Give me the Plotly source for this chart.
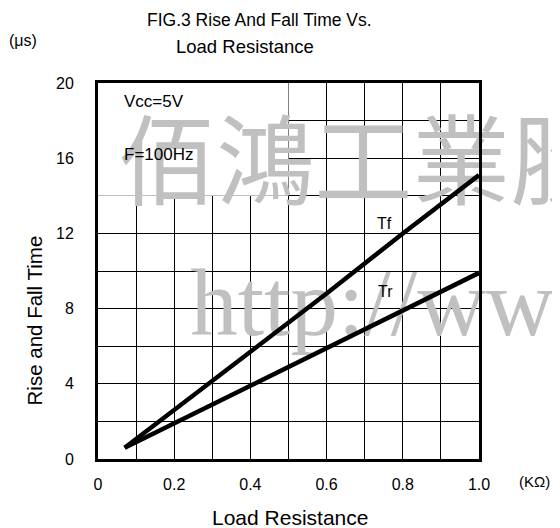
import plotly.graph_objects as go

# Data
load_res_kohm = [0.07, 0.2, 0.4, 0.6, 0.8, 1.0]
tf_us = [0.6, 2.6, 5.7, 8.8, 12.0, 15.1]
tr_us = [0.6, 1.9, 3.9, 5.9, 7.9, 9.9]

x_tickvals = [0, 0.1, 0.2, 0.3, 0.4, 0.5, 0.6, 0.7, 0.8, 0.9, 1.0]
x_ticktext = ["0", "", "0.2", "", "0.4", "", "0.6", "", "0.8", "", "1.0"]
y_tickvals = [0, 2, 4, 6, 8, 10, 12, 14, 16, 18, 20]
y_ticktext = ["0", "", "4", "", "8", "", "12", "", "16", "", "20"]

# blank (grid-free) box behind the test-condition text, in axis units
note_box_x = [0, 0.5, 0.5, 0, 0]
note_box_y = [14, 14, 20, 20, 14]

watermark_cjk = "佰鴻工業股"
watermark_url = "http://www"

FONT = "Liberation Sans, Arial, sans-serif"

# page body has an 8px margin -> figure is 552x520 drawn at (8,8)
OFF = 8
W, H = 552, 520
L, T = 89.7, 74.7
PW, PH = 381.3, 376.3
R = W - L - PW
B = H - T - PH


def sx(xs):
    """screen x pixel -> paper fraction"""
    return (xs - OFF - L) / PW


def sy(ys):
    """screen y pixel -> paper fraction"""
    return 1 - ((ys - OFF) - T) / PH


fig = go.Figure()
# white box hiding the grid (above grid, below watermark and curves)
fig.add_trace(go.Scatter(x=note_box_x, y=note_box_y, mode="lines", fill="toself",
                         fillcolor="white", line=dict(width=0, color="white"),
                         hoverinfo="skip", showlegend=False))
# watermarks as text traces, not clipped to the plot area
fig.add_trace(go.Scatter(x=[0.053], y=[15.25], mode="text", text=[watermark_cjk],
                         textposition="middle right", cliponaxis=False,
                         textfont=dict(family="Noto Sans CJK TC", size=98, color="#c0c0c0"),
                         hoverinfo="skip", showlegend=False))
fig.add_trace(go.Scatter(x=[0.242], y=[7.86], mode="text", text=[watermark_url],
                         textposition="middle right", cliponaxis=False,
                         textfont=dict(family="Liberation Serif", size=95, color="#c0c0c0"),
                         hoverinfo="skip", showlegend=False))
# curves
fig.add_trace(go.Scatter(x=load_res_kohm, y=tf_us, mode="lines", name="Tf",
                         line=dict(color="black", width=4.5)))
fig.add_trace(go.Scatter(x=load_res_kohm, y=tr_us, mode="lines", name="Tr",
                         line=dict(color="black", width=4.5)))

axis_common = dict(showline=True, mirror=True, linecolor="black", linewidth=3,
                   showgrid=True, gridcolor="black", gridwidth=1, zeroline=False,
                   ticks="", tickfont=dict(family=FONT, size=16, color="black"))
fig.update_xaxes(range=[0, 1], tickvals=x_tickvals, ticktext=x_ticktext,
                 ticklabelstandoff=9, **axis_common)
fig.update_yaxes(range=[0, 20], tickvals=y_tickvals, ticktext=y_ticktext,
                 ticklabelstandoff=18, **axis_common)


def ann(text, x, y, size=16, xref="paper", yref="paper", xanchor="center",
        yanchor="middle", angle=0):
    return dict(text=text, x=x, y=y, xref=xref, yref=yref, xanchor=xanchor,
                yanchor=yanchor, showarrow=False, textangle=angle,
                font=dict(family=FONT, size=size, color="black"))


annotations = [
    ann("FIG.3 Rise And Fall Time Vs.", sx(259), sy(20), size=17.5),
    ann("Load Resistance", sx(245), sy(46), size=18.5),
    ann("(μs)", sx(23), sy(40), size=16),
    ann("(KΩ)", sx(535), sy(482), size=15),
    ann("Rise and Fall Time", sx(34), sy(320), size=20.5, angle=-90),
    ann("Load Resistance", sx(290), sy(518), size=21),
    ann("Vcc=5V", 0.063, 19.0, size=17, xref="x", yref="y", xanchor="left"),
    ann("F=100Hz", 0.063, 16.2, size=17, xref="x", yref="y", xanchor="left"),
    ann("Tf", 0.727, 12.55, size=16, xref="x", yref="y", xanchor="left"),
    ann("Tr", 0.73, 8.9, size=16, xref="x", yref="y", xanchor="left"),
]

fig.update_layout(width=W, height=H, margin=dict(l=L, r=R, t=T, b=B, pad=0),
                  paper_bgcolor="white", plot_bgcolor="white", showlegend=False,
                  annotations=annotations)

fig.write_html("out.html")
